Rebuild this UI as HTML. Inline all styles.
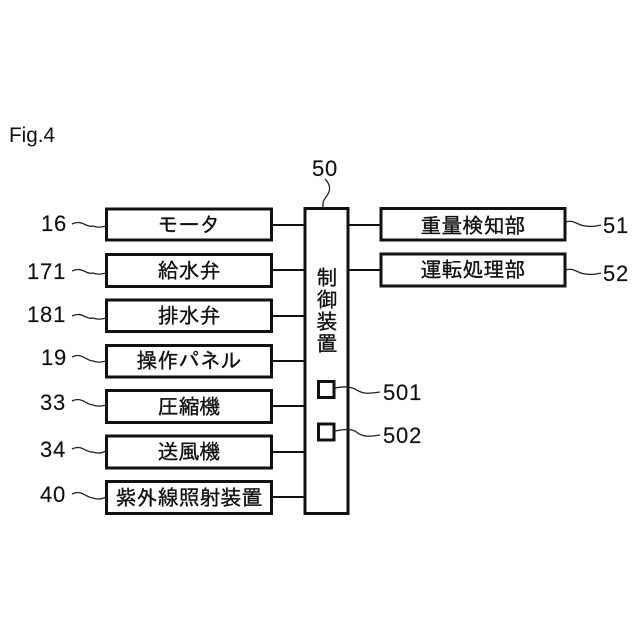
<!DOCTYPE html>
<html><head><meta charset="utf-8"><style>
html,body{margin:0;padding:0;background:#fff}
svg{display:block}
text{fill:#111}
.j{font-family:"IPAGothic","Noto Sans CJK JP",sans-serif;font-size:21px;text-anchor:middle;stroke:#111;stroke-width:.35px}
.n{font-family:"Liberation Sans",sans-serif;font-size:22px;letter-spacing:.8px;stroke:#111;stroke-width:.15px}
.b{fill:#fff;stroke:#111;stroke-width:3}
.l{stroke:#111;stroke-width:2;fill:none}
.w{stroke:#222;stroke-width:1.3;fill:none}
</style></head><body>
<svg width="640" height="640" viewBox="0 0 640 640" xmlns="http://www.w3.org/2000/svg">
<text x="9" y="142" font-family="'Liberation Sans',sans-serif" font-size="21.500" textLength="46" lengthAdjust="spacingAndGlyphs">Fig.4</text>

<g class="l">
<path d="M272 225H305M272 270H305M272 316H305M272 361H305M272 406H305M272 452H305M272 497H305M348 225H381M348 270H381"/>
</g>

<rect class="b" x="106.500" y="209" width="165" height="31"/>
<rect class="b" x="106.500" y="254.500" width="165" height="32"/>
<rect class="b" x="106.500" y="300" width="165" height="31.500"/>
<rect class="b" x="106.500" y="345.500" width="165" height="31.500"/>
<rect class="b" x="106.500" y="390.500" width="165" height="32"/>
<rect class="b" x="106.500" y="436" width="165" height="32"/>
<rect class="b" x="106.500" y="481.500" width="165" height="32"/>
<rect class="b" x="305" y="208.500" width="43" height="305"/>
<rect class="b" x="381" y="208.500" width="184" height="31.500"/>
<rect class="b" x="381" y="254" width="184" height="32"/>
<rect class="b" x="318.500" y="381.500" width="15.500" height="16" stroke-width="2.500"/>
<rect class="b" x="318.500" y="424" width="15.500" height="16" stroke-width="2.500"/>

<text class="j" x="189" y="232">モータ</text>
<text class="j" x="189" y="278">給水弁</text>
<text class="j" x="189" y="323">排水弁</text>
<text class="j" x="189" y="368">操作パネル</text>
<text class="j" x="189" y="414">圧縮機</text>
<text class="j" x="189" y="459">送風機</text>
<text class="j" x="189" y="505">紫外線照射装置</text>
<text class="j" x="473" y="233">重量検知部</text>
<text class="j" x="473" y="277">運転処理部</text>
<text class="j" x="327" y="285">制</text>
<text class="j" x="327" y="307">御</text>
<text class="j" x="327" y="329">装</text>
<text class="j" x="327" y="351">置</text>

<text class="n" x="41" y="231">16</text>
<text class="n" x="27" y="279">171</text>
<text class="n" x="27" y="322">181</text>
<text class="n" x="41" y="365">19</text>
<text class="n" x="40" y="410">33</text>
<text class="n" x="40" y="457">34</text>
<text class="n" x="40" y="502">40</text>
<text class="n" x="312" y="176">50</text>
<text class="n" x="603" y="233">51</text>
<text class="n" x="603" y="281">52</text>
<text class="n" x="383" y="400">501</text>
<text class="n" x="383" y="443">502</text>

<g class="w">
<path d="M72 224C82 219 86 228 93 226C98 228 102 227 106 226"/>
<path d="M72 271C82 266 86 275 93 273C98 275 102 274 106 273"/>
<path d="M72 316C82 311 86 320 93 318C98 320 102 319 106 318"/>
<path d="M72 357C82 352 86 361 93 361C98 363 102 362 106 361"/>
<path d="M72 401C82 396 86 405 93 405C98 407 102 406 106 405"/>
<path d="M72 449C82 444 86 453 93 452C98 454 102 453 106 451"/>
<path d="M72 494C82 489 86 498 93 498C98 500 102 499 106 497"/>
<path d="M325 179C332 186 330 192 326 197C322 202 323 204 323 208"/>
<path d="M566 222C574 219 578 226 586 226C592 227 596 226 601 225"/>
<path d="M566 270C574 267 578 274 586 274C592 275 596 274 601 273"/>
<path d="M335 388C345 386 350 387 355 389C362 394 368 394 380 392"/>
<path d="M335 431C345 429 350 429 355 431C362 437 368 437 380 435"/>
</g>
</svg>
</body></html>
